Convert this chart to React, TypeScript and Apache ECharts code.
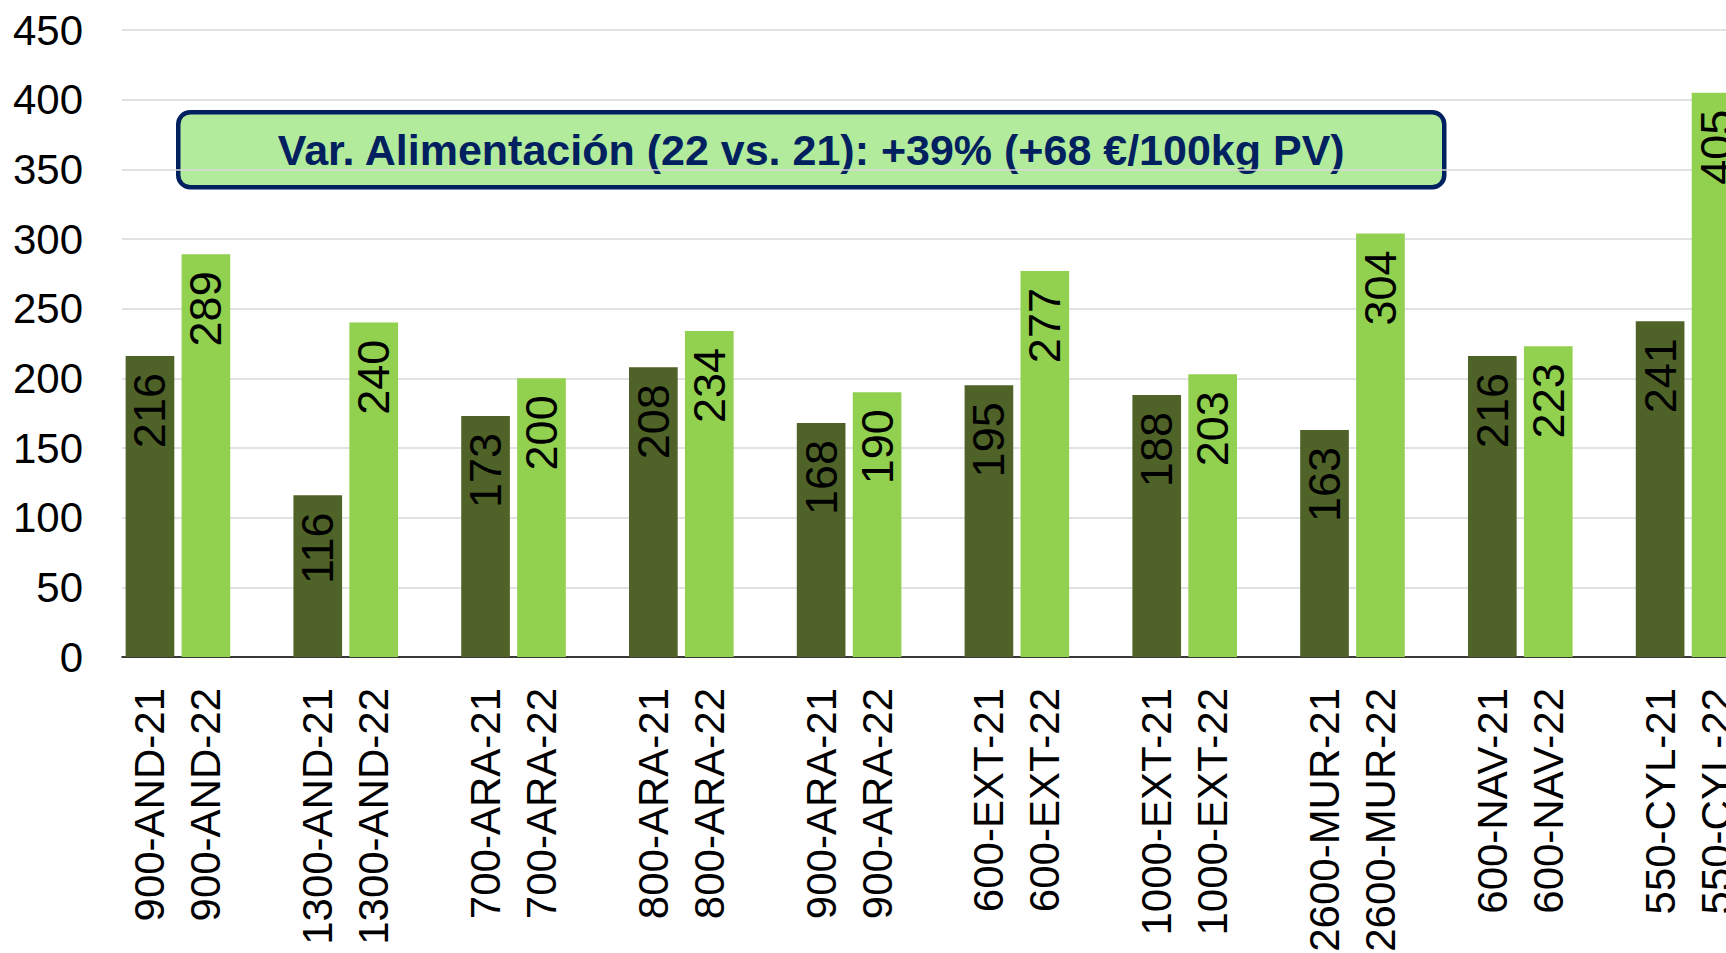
import React, { useEffect, useRef } from "react";
import * as echarts from "echarts";

const groups = [
  "900-AND",
  "1300-AND",
  "700-ARA",
  "800-ARA",
  "900-ARA",
  "600-EXT",
  "1000-EXT",
  "2600-MUR",
  "600-NAV",
  "550-CYL",
];
const values21 = [216, 116, 173, 208, 168, 195, 188, 163, 216, 241];
const values22 = [289, 240, 200, 234, 190, 277, 203, 304, 223, 405];
const yTicks = { min: 0, max: 450, interval: 50 };
const bannerText = "Var. Alimentación (22 vs. 21): +39% (+68 €/100kg PV)";

const DARK = "#4F6228";
const LIGHT = "#92D050";
const FONT = "Liberation Sans, Arial, sans-serif";

export default function App() {
  const ref = useRef<HTMLDivElement>(null);
  useEffect(() => {
    if (!ref.current) return;
    const chart = echarts.init(ref.current, null, { renderer: "svg" });

    const categories: string[] = [];
    const d21: (number | string)[] = [];
    const d22: (number | string)[] = [];
    groups.forEach((g, i) => {
      categories.push(g + "-21", g + "-22");
      d21.push(values21[i], "-");
      d22.push("-", values22[i]);
      if (i < groups.length - 1) {
        categories.push("");
        d21.push("-");
        d22.push("-");
      }
    });

    const label = {
      show: true,
      position: "insideTop" as const,
      rotate: 90,
      align: "right" as const,
      verticalAlign: "middle" as const,
      distance: 17,
      color: "#000",
      fontFamily: FONT,
      fontSize: 45,
    };

    chart.setOption({
      animation: false,
      backgroundColor: "#fff",
      grid: {
        left: 122,
        top: 30,
        width: 1622,
        height: 627,
        containLabel: false,
        outerBoundsMode: "none",
      },
      xAxis: {
        type: "category",
        data: categories,
        axisLine: { lineStyle: { color: "#000", width: 1.5 } },
        axisTick: { length: 11, lineStyle: { color: "#000", width: 1.5 } },
        axisLabel: {
          interval: 0,
          rotate: 90,
          margin: 31,
          color: "#000",
          fontFamily: FONT,
          fontSize: 42,
        },
      },
      yAxis: {
        type: "value",
        min: yTicks.min,
        max: yTicks.max,
        interval: yTicks.interval,
        axisLine: { show: false },
        axisTick: { show: false },
        axisLabel: { margin: 39, color: "#000", fontFamily: FONT, fontSize: 42 },
        splitLine: { lineStyle: { color: "#D9D9D9", width: 1.5 } },
      },
      series: [
        {
          name: "2021",
          type: "bar",
          stack: "s",
          data: d21,
          barCategoryGap: "13%",
          itemStyle: { color: DARK },
          label,
        },
        {
          name: "2022",
          type: "bar",
          stack: "s",
          data: d22,
          barCategoryGap: "13%",
          itemStyle: { color: LIGHT },
          label,
        },
      ],
      graphic: [
        {
          type: "group",
          left: 176,
          top: 110,
          children: [
            {
              type: "rect",
              shape: { x: 0, y: 0, width: 1266, height: 75, r: 12 },
              style: { fill: "#B3EB9C", stroke: "#002060", lineWidth: 4.5 },
            },
            {
              type: "text",
              x: 633,
              y: 38,
              style: {
                text: bannerText,
                fill: "#002060",
                font: "bold 43px Liberation Sans, Arial, sans-serif",
                align: "center",
                verticalAlign: "middle",
              },
            },
          ],
        },
      ],
    });
    return () => chart.dispose();
  }, []);
  return (
    <div
      ref={ref}
      style={{ position: "fixed", left: 0, top: 0, width: 1726, height: 953 }}
    />
  );
}
